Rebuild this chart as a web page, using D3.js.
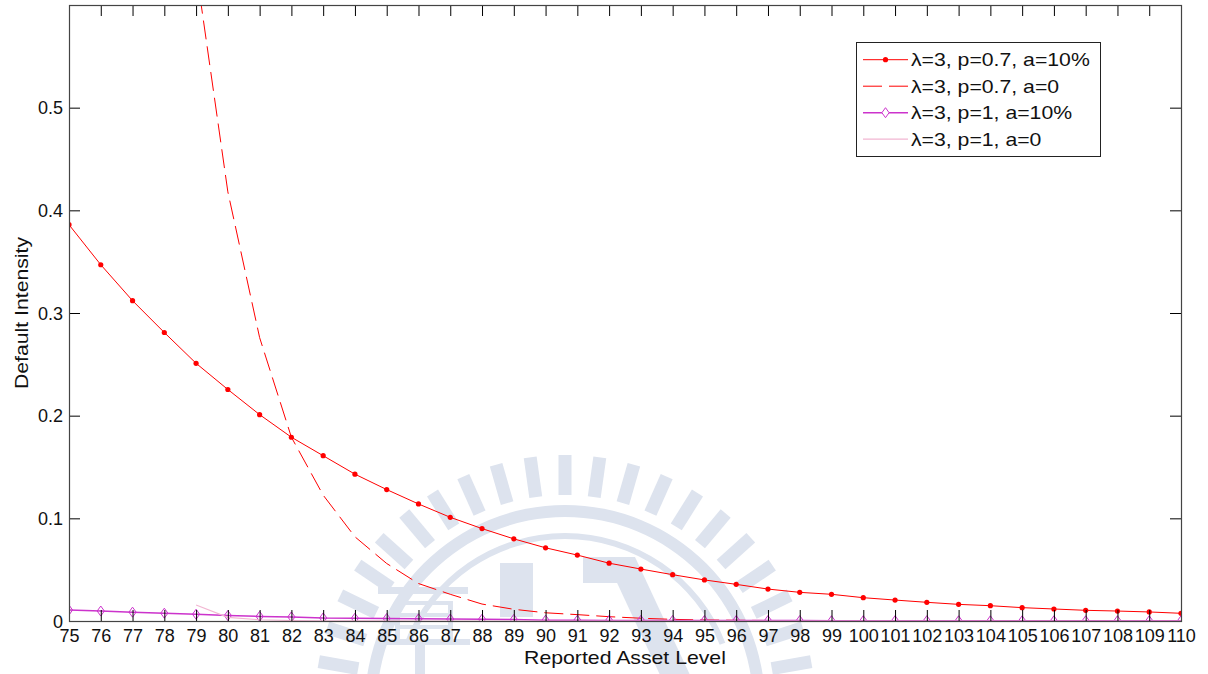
<!DOCTYPE html>
<html>
<head>
<meta charset="utf-8">
<script src="https://cdn.jsdelivr.net/npm/d3@7"></script>
<style>
  html, body { margin: 0; padding: 0; background: #fff; }
  svg { display: block; font-family: "Liberation Sans", Arial, sans-serif; }
</style>
</head>
<body>
<svg id="chart" width="1208" height="674"></svg>
<script>
// Reported asset levels on the x axis
const assetLevels = [75, 76, 77, 78, 79, 80, 81, 82, 83, 84, 85, 86, 87, 88, 89, 90, 91, 92,
  93, 94, 95, 96, 97, 98, 99, 100, 101, 102, 103, 104, 105, 106, 107, 108, 109, 110];

// λ=3, p=0.7, a=10%
const p07a10 = [0.386, 0.347, 0.312, 0.281, 0.251, 0.2255, 0.201, 0.179, 0.161, 0.143, 0.128,
  0.114, 0.101, 0.090, 0.080, 0.0713, 0.0642, 0.0563, 0.0506, 0.0451, 0.040, 0.0357, 0.0311,
  0.0279, 0.026, 0.0227, 0.0204, 0.0182, 0.0162, 0.0149, 0.013, 0.0117, 0.0104, 0.0097, 0.0088, 0.0075];

// λ=3, p=0.7, a=0 (undefined below 79)
const p07a0 = [null, null, null, null, 0.635, 0.418, 0.276, 0.179, 0.1226, 0.082, 0.056,
  0.0365, 0.026, 0.0165, 0.0114, 0.008, 0.0062, 0.0042, 0.0027, 0.0016, 0.001, 0.0007, 0.0005,
  0.0004, 0.0003, 0.0002, 0.0002, 0.0001, 0.0001, 0.0001, 0.0001, 0.0001, 0.0, 0.0, 0.0, 0.0];

// λ=3, p=1, a=10%
const p1a10 = [0.0107, 0.0097, 0.0086, 0.0076, 0.0066, 0.0053, 0.0045, 0.0040, 0.0030, 0.0027,
  0.0024, 0.0021, 0.0019, 0.0017, 0.0015, 0.0008, 0.0007, 0.0006, 0.0006, 0.0005, 0.0005, 0.0004,
  0.0004, 0.0004, 0.0003, 0.0003, 0.0003, 0.0003, 0.0002, 0.0002, 0.0002, 0.0002, 0.0002, 0.0002,
  0.0002, 0.0002];

// λ=3, p=1, a=0 (undefined below 79)
const p1a0 = [null, null, null, null, 0.0156, 0.0035, 0.0012, 0.0005, 0.0002, 0.0001, 0.0001,
  0.0, 0.0, 0.0, 0.0, 0.0, 0.0, 0.0, 0.0, 0.0, 0.0, 0.0, 0.0, 0.0, 0.0, 0.0, 0.0, 0.0, 0.0, 0.0,
  0.0, 0.0, 0.0, 0.0, 0.0, 0.0];

const yTicks = [0, 0.1, 0.2, 0.3, 0.4, 0.5];
const seriesNames = ["λ=3, p=0.7, a=10%", "λ=3, p=0.7, a=0", "λ=3, p=1, a=10%", "λ=3, p=1, a=0"];

const svg = d3.select("#chart");
const plot = { left: 69, top: 5, right: 1181, bottom: 621 };
const stretch = 1.18; // labels are set slightly wide

const x = d3.scaleLinear().domain([75, 110]).range([plot.left, plot.right]);
const y = d3.scaleLinear().domain([0, 0.6]).range([plot.bottom, plot.top]);

// Faint emblem behind the figure
const emblemColor = "#dde3ee";
const emblem = svg.append("g").attr("transform", "translate(565,705)");
d3.range(0, 360, 8).forEach(a => {
  emblem.append("rect")
    .attr("x", -6.5).attr("y", -250).attr("width", 13).attr("height", 40)
    .attr("transform", `rotate(${a})`).attr("fill", emblemColor);
});
emblem.append("path")
  .attr("d", d3.arc()({ innerRadius: 188, outerRadius: 200, startAngle: 0, endAngle: 2 * Math.PI }))
  .attr("fill", emblemColor);
emblem.append("path")
  .attr("d", d3.arc()({ innerRadius: 166, outerRadius: 172, startAngle: -1.2, endAngle: 1.2 }))
  .attr("fill", emblemColor);
const blocks = [[-187, -118, 90, 7], [-170, -104, 58, 4], [-170, -92, 58, 4], [-170, -80, 58, 4],
  [-187, -66, 92, 6], [-170, -104, 5, 38], [-117, -104, 5, 38], [-65, -142, 33, 54], [18, -148, 34, 26],
  [-150, -60, 10, 40]];
blocks.forEach(b => emblem.append("rect")
  .attr("x", b[0]).attr("y", b[1]).attr("width", b[2]).attr("height", b[3]).attr("fill", emblemColor));
emblem.append("path").attr("d", "M40,-148 L70,-148 L125,-30 L95,-30 Z").attr("fill", emblemColor);

// Clip for the data
svg.append("defs").append("clipPath").attr("id", "plotClip")
  .append("rect").attr("x", plot.left).attr("y", plot.top)
  .attr("width", plot.right - plot.left).attr("height", plot.bottom - plot.top);

const data = g => assetLevels.map((lv, i) => ({ x: lv, y: g[i] }));
const line = d3.line().defined(d => d.y !== null).x(d => x(d.x)).y(d => y(d.y));

const marks = svg.append("g").attr("clip-path", "url(#plotClip)");

const RED = "#ff0000", MAG = "#cc33cc", PINK = "#f2b6d2";

// p=0.7, a=10%: solid red with dots
marks.append("path").datum(data(p07a10)).attr("d", line)
  .attr("fill", "none").attr("stroke", RED).attr("stroke-width", 1);
marks.selectAll(".dot").data(data(p07a10)).join("circle")
  .attr("cx", d => x(d.x)).attr("cy", d => y(d.y)).attr("r", 2.6).attr("fill", RED);

// p=0.7, a=0: dashed red
marks.append("path").datum(data(p07a0)).attr("d", line)
  .attr("fill", "none").attr("stroke", RED).attr("stroke-width", 1).attr("stroke-dasharray", "19,7");

// p=1, a=10%: magenta with open diamonds
const diamond = "M0,-5 L3.6,0 L0,5 L-3.6,0 Z";
marks.append("path").datum(data(p1a10)).attr("d", line)
  .attr("fill", "none").attr("stroke", MAG).attr("stroke-width", 1.5);
marks.selectAll(".dia").data(data(p1a10)).join("path")
  .attr("d", diamond).attr("transform", d => `translate(${x(d.x)},${y(d.y)})`)
  .attr("fill", "none").attr("stroke", MAG).attr("stroke-width", 1);

// p=1, a=0: thin pink
marks.append("path").datum(data(p1a0)).attr("d", line)
  .attr("fill", "none").attr("stroke", PINK).attr("stroke-width", 1.2);

// Axes with inward ticks on all four sides
const tickLen = 11;
const fmt = d => d === 0 ? "0" : d3.format(".1f")(d);
const axB = svg.append("g").attr("transform", `translate(0,${plot.bottom})`)
  .call(d3.axisBottom(x).tickValues(assetLevels).tickSize(-tickLen).tickPadding(8).tickFormat(d3.format("d")));
const axT = svg.append("g").attr("transform", `translate(0,${plot.top})`)
  .call(d3.axisTop(x).tickValues(assetLevels).tickSize(-tickLen).tickFormat(""));
const axL = svg.append("g").attr("transform", `translate(${plot.left},0)`)
  .call(d3.axisLeft(y).tickValues(yTicks).tickSize(-tickLen).tickPadding(6).tickFormat(fmt));
const axR = svg.append("g").attr("transform", `translate(${plot.right},0)`)
  .call(d3.axisRight(y).tickValues(yTicks).tickSize(-tickLen).tickFormat(""));
[axB, axT, axL, axR].forEach(a => {
  a.select(".domain").remove();
  a.selectAll(".tick line").attr("stroke", "#000").attr("stroke-width", 1);
  a.selectAll(".tick text").attr("fill", "#111").style("font-size", "18px")
    .style("font-family", "'Liberation Sans', Arial, sans-serif");
});
// keep the top tick off the frame
axL.selectAll(".tick text").attr("dy", "0.34em");

svg.append("rect")
  .attr("x", plot.left + 0.5).attr("y", plot.top + 0.5)
  .attr("width", plot.right - plot.left).attr("height", plot.bottom - plot.top)
  .attr("fill", "none").attr("stroke", "#444").attr("stroke-width", 1.2);

// Axis titles
svg.append("text")
  .attr("transform", `translate(${(plot.left + plot.right) / 2},664) scale(${stretch},1)`)
  .attr("text-anchor", "middle").style("font-size", "18px").attr("fill", "#111")
  .text("Reported Asset Level");
svg.append("text")
  .attr("transform", `translate(28,${(plot.top + plot.bottom) / 2}) rotate(-90) scale(${stretch},1)`)
  .attr("text-anchor", "middle").style("font-size", "18px").attr("fill", "#111")
  .text("Default Intensity");

// Legend
const legend = svg.append("g");
legend.append("rect").attr("x", 856.5).attr("y", 42.5).attr("width", 244).attr("height", 114)
  .attr("fill", "#fff").attr("stroke", "#222").attr("stroke-width", 1);
const rowBase = [66, 92.5, 119, 145.5];
const styles = [
  { stroke: RED, dash: null, w: 1, marker: "dot" },
  { stroke: RED, dash: "19,7", w: 1, marker: null },
  { stroke: MAG, dash: null, w: 1.5, marker: "diamond" },
  { stroke: PINK, dash: null, w: 1.2, marker: null }
];
seriesNames.forEach((name, i) => {
  const cy = rowBase[i] - 6.3;
  const st = styles[i];
  legend.append("line").attr("x1", 863).attr("x2", 908).attr("y1", cy).attr("y2", cy)
    .attr("stroke", st.stroke).attr("stroke-width", st.w).attr("stroke-dasharray", st.dash);
  if (st.marker === "dot") {
    legend.append("circle").attr("cx", 885.5).attr("cy", cy).attr("r", 2.6).attr("fill", st.stroke);
  } else if (st.marker === "diamond") {
    legend.append("path").attr("d", diamond).attr("transform", `translate(885.5,${cy})`)
      .attr("fill", "#fff").attr("stroke", st.stroke).attr("stroke-width", 1);
  }
  legend.append("text")
    .attr("transform", `translate(911,${rowBase[i]}) scale(${stretch},1)`)
    .style("font-size", "18px").attr("fill", "#111").text(name);
});
</script>
</body>
</html>
